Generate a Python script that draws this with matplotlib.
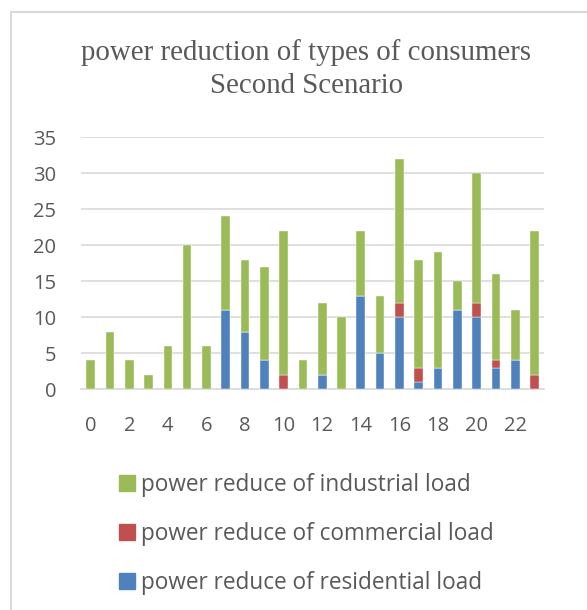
import numpy as np
import matplotlib.pyplot as plt
from matplotlib.patches import Patch
from matplotlib.lines import Line2D

hours = list(range(24))
residential = [0, 0, 0, 0, 0, 0, 0, 11, 8, 4, 0, 0, 2, 0, 13, 5, 10, 1, 3, 11, 10, 3, 4, 0]
commercial = [0, 0, 0, 0, 0, 0, 0, 0, 0, 0, 2, 0, 0, 0, 0, 0, 2, 2, 0, 0, 2, 1, 0, 2]
industrial = [4, 8, 4, 2, 6, 20, 6, 13, 10, 13, 20, 4, 10, 10, 9, 8, 20, 15, 16, 4, 18, 12, 7, 20]

labels = ['power reduce of industrial load',
          'power reduce of commercial load',
          'power reduce of residential load']
c_res, c_com, c_ind = '#4F81BD', '#C0504D', '#9BBB59'

W, H = 587, 610
fig = plt.figure(figsize=(W / 100, H / 100), dpi=100)

# chart frame (only top and left edges visible in the crop)
fig.add_artist(Line2D([11 / W, 11 / W], [0, 1 - 12 / H], color='#d9d9d9', lw=1.5))
fig.add_artist(Line2D([11 / W, 1], [1 - 12 / H, 1 - 12 / H], color='#d9d9d9', lw=1.5))

ax = fig.add_axes([0.138, 0.362, 0.789, 0.413])

res = np.array(residential)
com = np.array(commercial)
ind = np.array(industrial)
w = 0.45
ax.bar(hours, res, width=w, color=c_res, edgecolor='white', linewidth=0.3, zorder=3)
ax.bar(hours, com, width=w, bottom=res, color=c_com, edgecolor='white', linewidth=0.3, zorder=3)
ax.bar(hours, ind, width=w, bottom=res + com, color=c_ind, edgecolor='white', linewidth=0.3, zorder=3)

ax.set_xlim(-0.5, 23.5)
ax.set_ylim(0, 35)
ax.set_yticks(range(0, 36, 5))
ax.set_xticks(range(0, 24, 2))
ax.yaxis.grid(True, color='#d9d9d9', linewidth=1.2, zorder=0)
for s in ['top', 'right', 'left']:
    ax.spines[s].set_visible(False)
ax.spines['bottom'].set_color('#d9d9d9')
ax.spines['bottom'].set_linewidth(1.2)
ax.tick_params(length=0, labelsize=14.5, labelcolor='#595959')
ax.tick_params(axis='y', pad=18)
ax.tick_params(axis='x', pad=19)
for t in ax.get_xticklabels() + ax.get_yticklabels():
    t.set_fontfamily('Open Sans')

fig.text(0.522, 1 - 69 / H, 'power reduction of types of consumers\nSecond Scenario',
         ha='center', va='center', fontsize=20.8, family='Liberation Serif',
         color='#595959', linespacing=1.35)

handles = [Patch(color=c_ind), Patch(color=c_com), Patch(color=c_res)]
fig.legend(handles, labels, loc='upper left', bbox_to_anchor=(119 / W, 1 - 473 / H),
           frameon=False, prop={'family': 'Open Sans', 'size': 16.3},
           labelcolor='#595959', handlelength=0.7, handleheight=0.7,
           handletextpad=0.25, labelspacing=1.1, borderpad=0, borderaxespad=0)

fig.savefig('out.png', dpi=100)
